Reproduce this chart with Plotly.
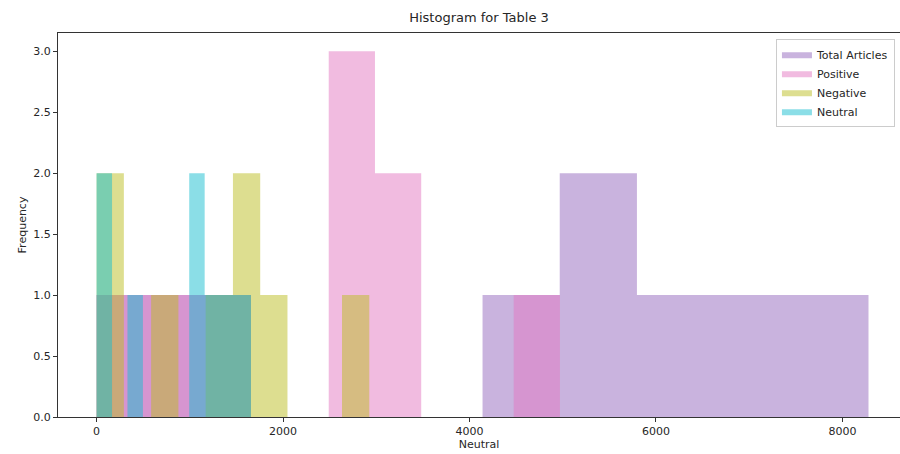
import plotly.graph_objects as go

# Histogram bins (left edge, right edge) and counts
total_edges = [4140, 8280]
total_counts = [1, 1, 2, 2, 1, 1, 1, 1, 1, 1]

positive_edges = [2490, 4970]
positive_counts = [3, 3, 2, 2, 0, 0, 0, 0, 1, 1]

negative_edges = [0, 2925]
negative_counts = [2, 0, 1, 0, 1, 2, 1, 0, 0, 1]

neutral_edges = [0, 1656]
neutral_counts = [2, 0, 1, 0, 0, 0, 2, 1, 1, 1]

# unlabeled overlapping bars in the low range (purple and pink layers)
extra_purple_edges = [0, 1656]
extra_purple_counts = [1]
extra_pink_edges = [0, 1656]
extra_pink_counts = [1]

series = [
    ("Total Articles", total_edges, total_counts, "148,103,189", True),
    ("Positive", positive_edges, positive_counts, "227,119,194", True),
    ("_extra1", extra_purple_edges, extra_purple_counts, "148,103,189", False),
    ("_extra2", extra_pink_edges, extra_pink_counts, "227,119,194", False),
    ("Negative", negative_edges, negative_counts, "188,189,34", True),
    ("Neutral", neutral_edges, neutral_counts, "23,190,207", True),
]

fig = go.Figure()
for name, edges, counts, rgb, show in series:
    n = len(counts)
    w = (edges[1] - edges[0]) / n
    xs, ys = [edges[0]], [0]
    for i, c in enumerate(counts):
        xs += [edges[0] + w * i, edges[0] + w * (i + 1)]
        ys += [c, c]
    xs.append(edges[1])
    ys.append(0)
    fig.add_trace(go.Scatter(
        x=xs, y=ys, name=name, mode="lines", fill="toself",
        fillcolor=f"rgba({rgb},0.5)", line=dict(width=0, color=f"rgba({rgb},0.5)"),
        showlegend=show, hoverinfo="x+y",
    ))

font = "DejaVu Sans"
fig.update_layout(
    width=900, height=454,
    plot_bgcolor="white", paper_bgcolor="white",
    margin=dict(l=58, r=0, t=33, b=37, autoexpand=False),
    title=dict(text="Histogram for Table 3", x=0.5, xanchor="center",
               xref="paper", y=1 - 17 / 454, yanchor="middle",
               font=dict(family=font, size=13, color="#262626")),
    font=dict(family=font, size=11, color="#262626"),
    xaxis=dict(range=[-414, 8618], tickvals=[0, 2000, 4000, 6000, 8000],
               showgrid=False, zeroline=False, showline=True, linecolor="#333",
               linewidth=1, mirror=True, ticks="outside", ticklen=4,
               tickcolor="#333", automargin=False,
               title=dict(text="Neutral", standoff=0, font=dict(size=11))),
    yaxis=dict(range=[0, 3.15], tickvals=[0, 0.5, 1, 1.5, 2, 2.5, 3],
               ticktext=["0.0", "0.5", "1.0", "1.5", "2.0", "2.5", "3.0"],
               showgrid=False, zeroline=False, showline=True, linecolor="#333",
               linewidth=1, ticks="outside", ticklen=4, tickcolor="#333",
               automargin=False,
               title=dict(text="Frequency", standoff=4, font=dict(size=11))),
    legend=dict(x=0.994, y=0.985, xanchor="right", yanchor="top",
                bgcolor="rgba(255,255,255,0.8)", bordercolor="#cccccc",
                borderwidth=1, font=dict(size=11), traceorder="normal",
                itemwidth=30, tracegroupgap=0),
)

fig.write_html(
    "out.html",
    config={"displayModeBar": False},
    post_script="document.body.style.margin='0';document.body.style.padding='0';",
)
